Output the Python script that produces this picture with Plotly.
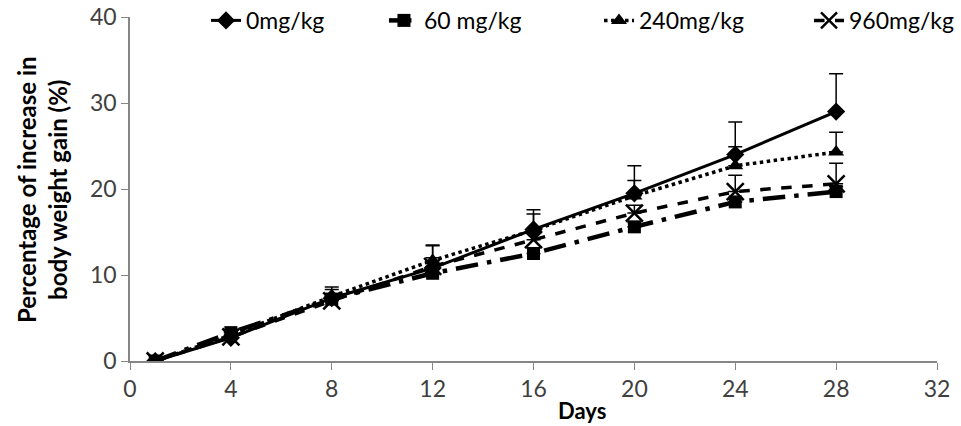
import plotly.graph_objects as go

days = [1, 4, 8, 12, 16, 20, 24, 28]

names = ["0mg/kg", "60 mg/kg", "240mg/kg", "960mg/kg"]

v_0 = [0.0, 2.7, 7.3, 10.8, 15.3, 19.5, 24.0, 29.0]
v_60 = [0.0, 3.3, 7.2, 10.2, 12.5, 15.6, 18.5, 19.7]
v_240 = [0.0, 3.0, 7.5, 11.7, 15.2, 19.2, 22.7, 24.3]
v_960 = [0.0, 2.8, 7.0, 11.0, 14.1, 17.2, 19.7, 20.6]

e_0 = [0.0, 0.3, 1.3, 2.6, 2.3, 3.2, 3.8, 4.4]
e_60 = [0.0, 0.2, 0.4, 0.6, 0.6, 0.5, 0.5, 0.6]
e_240 = [0.0, 0.3, 0.8, 1.8, 1.9, 1.8, 2.2, 2.3]
e_960 = [0.0, 0.2, 0.5, 1.0, 1.0, 0.9, 1.9, 2.4]

x_ticks = [0, 4, 8, 12, 16, 20, 24, 28, 32]
y_ticks = [0, 10, 20, 30, 40]

x_title = "Days"
y_title = "Percentage of increase in<br>body weight gain (%)"

FONT = "Lato"
TICK_COLOR = "#404040"

styles = [
    dict(dash="solid", width=3, symbol="diamond", size=14),
    dict(dash="longdashdot", width=4.5, symbol="square", size=13),
    dict(dash="dot", width=3.5, symbol="triangle-up", size=14),
    dict(dash="dash", width=3.5, symbol="x-thin", size=17),
]
legend_ids = ["legend", "legend2", "legend3", "legend4"]
legend_x = [0.0942, 0.3147, 0.5812, 0.8414]
values = [v_0, v_60, v_240, v_960]
errors = [e_0, e_60, e_240, e_960]

fig = go.Figure()
for name, vals, errs, st, lid in zip(names, values, errors, styles, legend_ids):
    marker = dict(symbol=st["symbol"], size=st["size"], color="black")
    if st["symbol"] == "x-thin":
        marker["line"] = dict(color="black", width=2.5)
    fig.add_trace(go.Scatter(
        x=days, y=vals, name=name, mode="lines+markers", legend=lid,
        line=dict(color="black", dash=st["dash"], width=st["width"]),
        marker=marker,
        error_y=dict(type="data", symmetric=False, array=errs,
                     arrayminus=[0] * len(errs), color="black",
                     thickness=1.5, width=7),
    ))

fig.add_annotation(text="<b>" + x_title + "</b>", xref="paper", yref="paper",
                   x=(582 - 130) / 807, y=-(410 - 361) / 344,
                   xanchor="center", yanchor="middle", showarrow=False,
                   font=dict(family=FONT, size=22, color="black"))
fig.add_annotation(text="<b>" + y_title + "</b>", xref="paper", yref="paper",
                   x=-(130 - 42) / 807, y=(361 - 190) / 344, textangle=-90,
                   xanchor="center", yanchor="middle", showarrow=False,
                   font=dict(family=FONT, size=24, color="black"))

legend_common = dict(orientation="h", xanchor="left", y=0.99, yanchor="middle",
                     bgcolor="rgba(255,255,255,0)",
                     font=dict(family=FONT, size=23, color="black"))

fig.update_layout(
    width=961, height=426,
    margin=dict(l=130, r=24, t=17, b=65, autoexpand=False),
    paper_bgcolor="white", plot_bgcolor="white",
    font=dict(family=FONT, size=23, color=TICK_COLOR),
    showlegend=True,
    legend=dict(x=legend_x[0], **legend_common),
    legend2=dict(x=legend_x[1], **legend_common),
    legend3=dict(x=legend_x[2], **legend_common),
    legend4=dict(x=legend_x[3], **legend_common),
    xaxis=dict(range=[0, 32], tickvals=x_ticks, ticktext=[str(t) for t in x_ticks],
               showline=True, linecolor="#868686", linewidth=1.5,
               ticks="outside", ticklen=7, tickcolor="#868686",
               showgrid=False, zeroline=False,
               tickfont=dict(family=FONT, size=23, color=TICK_COLOR)),
    yaxis=dict(range=[0, 40], tickvals=y_ticks,
               showline=True, linecolor="#868686", linewidth=1.5,
               ticks="outside", ticklen=7, tickcolor="#868686",
               showgrid=False, zeroline=False,
               tickfont=dict(family=FONT, size=23, color=TICK_COLOR)),
)

fig.write_html("out.html", config={"displayModeBar": False},
               post_script="document.body.style.margin='0';")
